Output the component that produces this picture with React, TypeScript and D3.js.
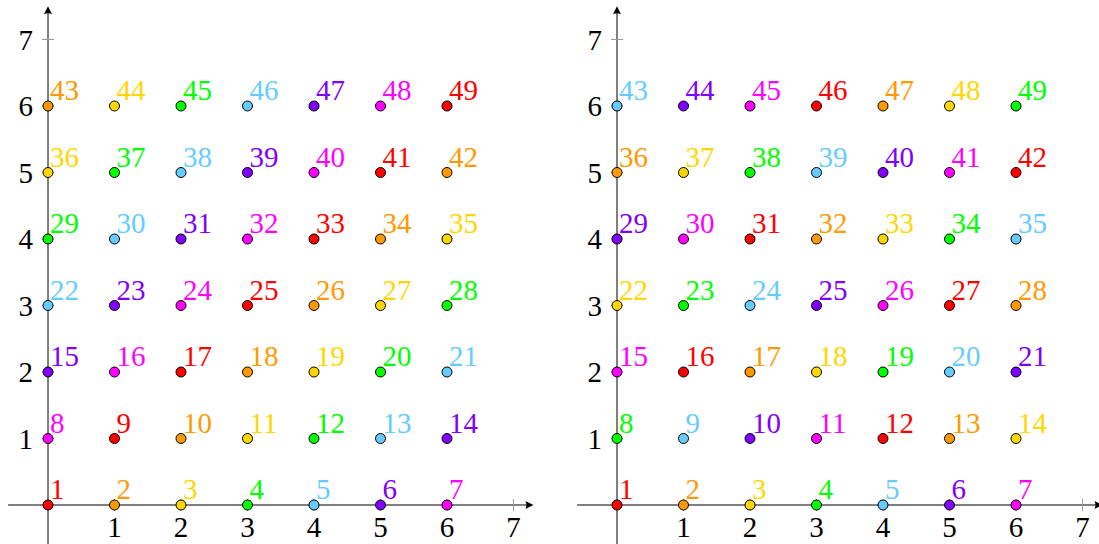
import React from "react";
import * as d3 from "d3";

// Grid coordinates along each axis
const xValues = [0, 1, 2, 3, 4, 5, 6];
const yValues = [0, 1, 2, 3, 4, 5, 6];
const tickValues = [1, 2, 3, 4, 5, 6, 7];

// Point numbers, one row per y value
const pointLabels = [
  [1, 2, 3, 4, 5, 6, 7],
  [8, 9, 10, 11, 12, 13, 14],
  [15, 16, 17, 18, 19, 20, 21],
  [22, 23, 24, 25, 26, 27, 28],
  [29, 30, 31, 32, 33, 34, 35],
  [36, 37, 38, 39, 40, 41, 42],
  [43, 44, 45, 46, 47, 48, 49],
];

const palette: Record<string, string> = {
  red: "#ff0000",
  orange: "#ff9900",
  yellow: "#ffd700",
  green: "#00ff00",
  sky: "#66ccff",
  violet: "#8000ff",
  magenta: "#ff00ff",
};

// Colour of each point, left panel (one row per y value)
const leftColors = [
  ["red", "orange", "yellow", "green", "sky", "violet", "magenta"],
  ["magenta", "red", "orange", "yellow", "green", "sky", "violet"],
  ["violet", "magenta", "red", "orange", "yellow", "green", "sky"],
  ["sky", "violet", "magenta", "red", "orange", "yellow", "green"],
  ["green", "sky", "violet", "magenta", "red", "orange", "yellow"],
  ["yellow", "green", "sky", "violet", "magenta", "red", "orange"],
  ["orange", "yellow", "green", "sky", "violet", "magenta", "red"],
];

// Colour of each point, right panel
const rightColors = [
  ["red", "orange", "yellow", "green", "sky", "violet", "magenta"],
  ["green", "sky", "violet", "magenta", "red", "orange", "yellow"],
  ["magenta", "red", "orange", "yellow", "green", "sky", "violet"],
  ["yellow", "green", "sky", "violet", "magenta", "red", "orange"],
  ["violet", "magenta", "red", "orange", "yellow", "green", "sky"],
  ["orange", "yellow", "green", "sky", "violet", "magenta", "red"],
  ["sky", "violet", "magenta", "red", "orange", "yellow", "green"],
];

const UNIT = 66.5;
const ORIGIN_Y = 505;
const FONT = "'Liberation Serif', 'Times New Roman', serif";
const FONT_SIZE = 29;

function Panel({ originX, colors }: { originX: number; colors: string[][] }) {
  const x = d3.scaleLinear().domain([0, 1]).range([originX, originX + UNIT]);
  const y = d3.scaleLinear().domain([0, 1]).range([ORIGIN_Y, ORIGIN_Y - UNIT]);

  const xStart = x(-0.6);
  const xEnd = x(7.3);
  const yStart = y(-0.6);
  const yEnd = y(7.5);
  const x0 = x(0);
  const y0 = y(0);

  return (
    <g>
      {/* axes */}
      <line x1={xStart} x2={xEnd - 2} y1={y0} y2={y0} stroke="#000" strokeWidth={1} />
      <line x1={x0} x2={x0} y1={yStart} y2={yEnd + 2} stroke="#000" strokeWidth={1} />
      <path
        d={`M${xEnd},${y0} L${xEnd - 8},${y0 - 4} Q${xEnd - 6},${y0} ${xEnd - 8},${y0 + 4} Z`}
        fill="#000"
      />
      <path
        d={`M${x0},${yEnd} L${x0 - 4},${yEnd + 8} Q${x0},${yEnd + 6} ${x0 + 4},${yEnd + 8} Z`}
        fill="#000"
      />

      {/* ticks */}
      {tickValues.map((t) => (
        <g key={`t${t}`}>
          <line x1={x(t)} x2={x(t)} y1={y0 - 6} y2={y0 + 6} stroke="#999" strokeWidth={1} />
          <line x1={x0 - 6} x2={x0 + 6} y1={y(t)} y2={y(t)} stroke="#999" strokeWidth={1} />
          <text
            x={x(t)}
            y={y0 + 32}
            textAnchor="middle"
            fontFamily={FONT}
            fontSize={FONT_SIZE}
            fill="#000"
          >
            {t}
          </text>
          <text
            x={x0 - 15}
            y={y(t) + 10}
            textAnchor="end"
            fontFamily={FONT}
            fontSize={FONT_SIZE}
            fill="#000"
          >
            {t}
          </text>
        </g>
      ))}

      {/* points and their numbers */}
      {yValues.map((yv, row) =>
        xValues.map((xv, col) => {
          const c = palette[colors[row][col]];
          return (
            <g key={`p${row}-${col}`}>
              <circle cx={x(xv)} cy={y(yv)} r={5} fill={c} stroke="#000" strokeWidth={1} />
              <text
                x={x(xv) + 2}
                y={y(yv) - 6}
                fontFamily={FONT}
                fontSize={FONT_SIZE}
                fill={c}
              >
                {pointLabels[row][col]}
              </text>
            </g>
          );
        })
      )}
    </g>
  );
}

export default function App() {
  return (
    <svg
      width={1099}
      height={544}
      style={{ position: "absolute", left: 0, top: 0, background: "#fff" }}
    >
      <Panel originX={48} colors={leftColors} />
      <Panel originX={617} colors={rightColors} />
    </svg>
  );
}
